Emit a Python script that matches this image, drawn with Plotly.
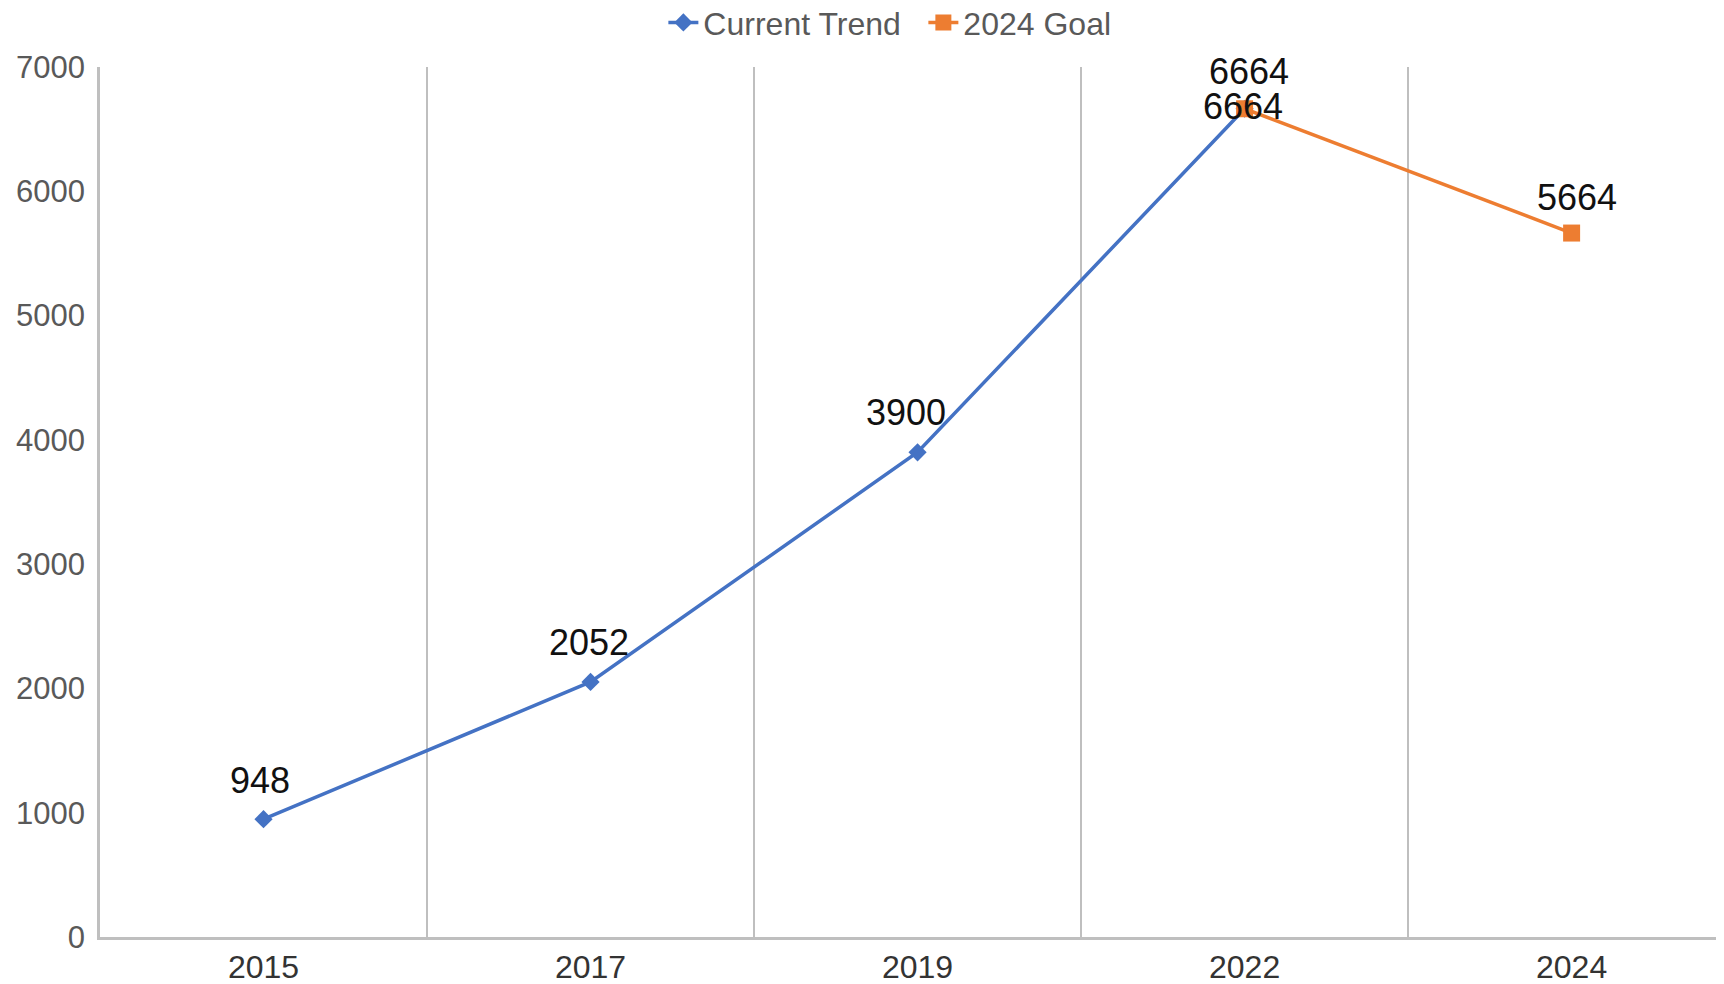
import plotly.graph_objects as go

categories = ["2015", "2017", "2019", "2022", "2024"]
trend_x = ["2015", "2017", "2019", "2022"]
trend_y = [948, 2052, 3900, 6664]
goal_x = ["2022", "2024"]
goal_y = [6664, 5664]

FONT = "Arial, Liberation Sans, sans-serif"
BLUE = "#4472C4"
ORANGE = "#ED7D31"

fig = go.Figure()
fig.add_trace(go.Scatter(
    x=trend_x, y=trend_y, name="Current Trend", mode="lines+markers",
    line=dict(color=BLUE, width=3.5),
    marker=dict(symbol="diamond", size=14, color=BLUE),
    cliponaxis=False,
))
fig.add_trace(go.Scatter(
    x=goal_x, y=goal_y, name="2024 Goal", mode="lines+markers",
    line=dict(color=ORANGE, width=3.5),
    marker=dict(symbol="square", size=17, color=ORANGE),
    cliponaxis=False,
))

# data labels (drawn on top of all marks); category axis -> use category index
trend_shift_y = [39, 39, 40, 2]
trend_shift_x = [-4, -2, -12, -2]
for xv, yv, dy, dx in zip(trend_x, trend_y, trend_shift_y, trend_shift_x):
    fig.add_annotation(x=categories.index(xv), y=yv, text=str(yv), showarrow=False,
                       xref="x", yref="y",
                       xanchor="center", yanchor="middle", yshift=dy, xshift=dx,
                       font=dict(family=FONT, size=36, color="#111111"))
goal_shift_y = [37, 36]
goal_shift_x = [4, 5]
for xv, yv, dy, dx in zip(goal_x, goal_y, goal_shift_y, goal_shift_x):
    fig.add_annotation(x=categories.index(xv), y=yv, text=str(yv), showarrow=False,
                       xref="x", yref="y",
                       xanchor="center", yanchor="middle", yshift=dy, xshift=dx,
                       font=dict(family=FONT, size=36, color="#111111"))

fig.update_layout(
    width=1716, height=976,
    margin=dict(l=92, r=0, t=59, b=47, autoexpand=False),
    paper_bgcolor="white", plot_bgcolor="white",
    font=dict(family=FONT, size=31, color="#595959"),
    showlegend=True,
    legend=dict(orientation="h", x=0.507, xanchor="center", y=1.051, yanchor="middle",
                font=dict(family=FONT, size=32, color="#595959"),
                entrywidth=215, entrywidthmode="pixels",
                traceorder="normal"),
    xaxis=dict(
        type="category", categoryorder="array", categoryarray=categories,
        range=[-0.5, 4.466],
        tickson="boundaries", showgrid=True, gridcolor="#BFBFBF", gridwidth=2,
        showline=True, linecolor="#BFBFBF", linewidth=2.5,
        ticks="", tickfont=dict(family=FONT, size=32, color="#333333"),
        zeroline=False,
    ),
    yaxis=dict(
        range=[0, 7000], dtick=1000, tick0=0,
        showgrid=False, zeroline=False,
        showline=True, linecolor="#BFBFBF", linewidth=2.5,
        ticks="", ticklabelstandoff=6,
        tickfont=dict(family=FONT, size=31, color="#595959"),
    ),
)

fig.write_html("out.html")
